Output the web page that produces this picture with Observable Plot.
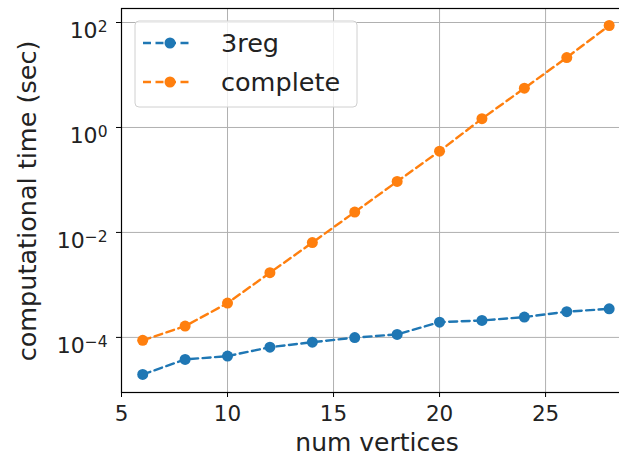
<!DOCTYPE html>
<html>
<head>
<meta charset="utf-8">
<script src="https://cdn.jsdelivr.net/npm/d3@7"></script>
<script src="https://cdn.jsdelivr.net/npm/@observablehq/plot@0.6"></script>
<style>
  html, body { margin: 0; padding: 0; background: #fff; }
  #chart { position: relative; width: 619px; height: 457px; overflow: hidden; }
</style>
</head>
<body>
<div id="chart"></div>
<script>
const vertices = [6, 8, 10, 12, 14, 16, 18, 20, 22, 24, 26, 28];
const reg3 = [1.97e-5, 3.8e-5, 4.4e-5, 6.5e-5, 8.1e-5, 9.9e-5, 1.14e-4, 1.95e-4, 2.1e-4, 2.44e-4, 3.09e-4, 3.5e-4];
const complete = [8.8e-5, 1.64e-4, 4.5e-4, 1.71e-3, 6.4e-3, 0.0244, 0.0935, 0.354, 1.47, 5.6, 21.5, 87.7];
const seriesNames = ["3reg", "complete"];
const seriesColors = ["#1f77b4", "#ff7f0e"];
const xTicks = [5, 10, 15, 20, 25];
const yTicks = [1e-4, 1e-2, 1, 1e2];
const yTickExponents = ["−4", "−2", "0", "2"];

const rows = [];
vertices.forEach((v, i) => {
  rows.push({series: seriesNames[0], x: v, y: reg3[i]});
  rows.push({series: seriesNames[1], x: v, y: complete[i]});
});

const font = "DejaVu Sans, sans-serif";
const dash = "8,4.5";

const plot = Plot.plot({
  width: 619,
  height: 457,
  marginLeft: 121,
  marginTop: 8,
  marginBottom: 65,
  marginRight: -13,
  style: {fontFamily: font, background: "white", overflow: "visible"},
  x: {domain: [5, 29.1]},
  y: {type: "log", domain: [Math.pow(10, -5.05), Math.pow(10, 2.267)]},
  color: {domain: seriesNames, range: seriesColors},
  marks: [
    Plot.gridX(xTicks, {stroke: "#b0b0b0", strokeOpacity: 1, strokeWidth: 1}),
    Plot.gridY(yTicks, {stroke: "#b0b0b0", strokeOpacity: 1, strokeWidth: 1}),
    Plot.line(rows, {x: "x", y: "y", z: "series", stroke: "series", strokeWidth: 2.4, strokeDasharray: dash}),
    Plot.dot(rows, {x: "x", y: "y", fill: "series", r: 5.5}),
    Plot.frame({stroke: "black", strokeWidth: 1.2}),
    Plot.axisX({ticks: xTicks, tickSize: 5, tickPadding: 8, fontSize: 21.5, label: null, stroke: "black"}),
    Plot.axisY({ticks: yTicks, tickSize: 5, tickPadding: 9, fontSize: 22, label: null,
      tickFormat: d => "10^" + yTickExponents[yTicks.indexOf(d)]}),
    Plot.text(["num vertices"], {frameAnchor: "bottom", dy: 58, fontSize: 25, fill: "#222", text: d => d}),
  ]
});

document.getElementById("chart").appendChild(plot);

const svg = d3.select(plot);
svg.selectAll("[aria-label='x-axis tick label'] text").attr("fill", "#222");

// rebuild y tick labels as base + superscript
svg.selectAll("[aria-label='y-axis tick label'] text").each(function() {
  const t = d3.select(this);
  const s = t.text();
  const [base, exp] = s.split("^");
  t.text(null).attr("fill", "#222");
  t.attr("dy", null);
  t.append("tspan").attr("dy", "0.4em").text(base);
  t.append("tspan").attr("dy", "-0.38em").attr("font-size", 15.5).text(exp);
});

// y-axis label
svg.append("text")
  .attr("transform", "translate(36,201) rotate(-90)")
  .attr("text-anchor", "middle")
  .attr("font-family", font)
  .attr("font-size", 25.5)
  .attr("fill", "#222")
  .text("computational time (sec)");

// legend
const lg = svg.append("g");
lg.append("rect")
  .attr("x", 135).attr("y", 21).attr("width", 222).attr("height", 86)
  .attr("rx", 4)
  .attr("fill", "white").attr("fill-opacity", 0.8)
  .attr("stroke", "#d0d0d0");
seriesNames.forEach((name, i) => {
  const cy = 43 + i * 39;
  lg.append("line")
    .attr("x1", 143).attr("x2", 193).attr("y1", cy).attr("y2", cy)
    .attr("stroke", seriesColors[i]).attr("stroke-width", 2.4)
    .attr("stroke-dasharray", dash);
  lg.append("circle").attr("cx", 170).attr("cy", cy).attr("r", 5.5).attr("fill", seriesColors[i]);
  lg.append("text")
    .attr("x", 221).attr("y", cy + 9)
    .attr("text-anchor", "start")
    .attr("font-family", font).attr("font-size", 25.5).attr("fill", "#222")
    .text(name);
});
</script>
</body>
</html>
